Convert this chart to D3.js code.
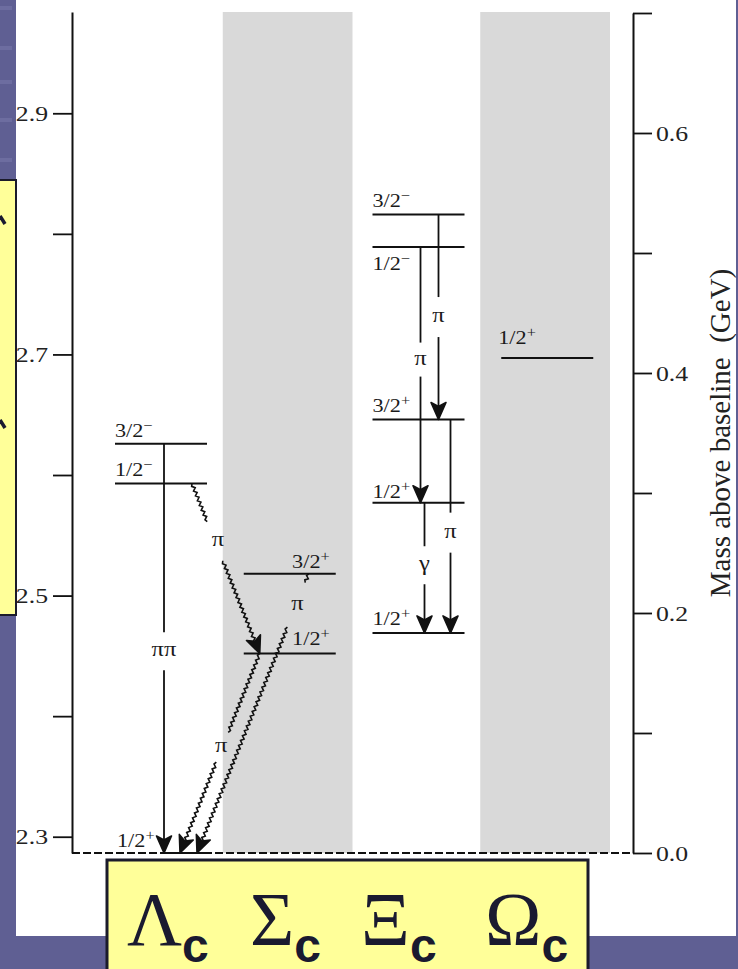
<!DOCTYPE html>
<html>
<head>
<meta charset="utf-8">
<script src="https://cdn.jsdelivr.net/npm/d3@7"></script>
<style>
  html, body { margin: 0; padding: 0; background: #5f5f93; }
  svg { display: block; }
</style>
</head>
<body>
<svg id="chart" width="738" height="969"></svg>
<script>
// ---- Charm baryon families (one column each) ----
const families = ["Λc", "Σc", "Ξc", "Ωc"];
const shadedFamilies = ["Σc", "Ωc"];

// ---- Levels: family, mass (GeV), spin J, parity P ----
const levelIds    = ["L0", "L1", "L2", "S1", "S2", "X0", "X1", "X2", "X3", "X4", "O0"];
const levelFamily = ["Λc", "Λc", "Λc", "Σc", "Σc", "Ξc", "Ξc", "Ξc", "Ξc", "Ξc", "Ωc"];
const levelMass   = [2.2865, 2.593, 2.626, 2.452, 2.518, 2.469, 2.577, 2.646, 2.789, 2.816, 2.697];
const levelSpin   = ["1/2", "1/2", "3/2", "1/2", "3/2", "1/2", "1/2", "3/2", "1/2", "3/2", "1/2"];
const levelParity = ["+", "−", "−", "+", "+", "+", "+", "+", "−", "−", "+"];

// ---- Decays between levels ----
const decayFrom  = ["L2", "L1", "S1", "S2", "X3", "X4", "X2", "X1"];
const decayTo    = ["L0", "S1", "L0", "L0", "X1", "X2", "X0", "X0"];
const decayLabel = ["ππ", "π", "π", "π", "π", "π", "π", "γ"];
const decayWavy  = [false, true, true, true, false, false, false, false];

// ---- Axis ticks ----
const massTicks      = [2.3, 2.4, 2.5, 2.6, 2.7, 2.8, 2.9];
const massTickLabels = ["2.3", "", "2.5", "", "2.7", "", "2.9"];
const excTicks       = [0.0, 0.1, 0.2, 0.3, 0.4, 0.5, 0.6, 0.7];
const excTickLabels  = ["0.0", "", "0.2", "", "0.4", "", "0.6", ""];
const excAxisTitle   = "Mass above baseline  (GeV)";

// ---- Layout (placement only) ----
const levelInset = [21, 113];             // level line span inside a column
const levelLabelPlace = {                 // where each J^P tag sits relative to its line
  L0: { anchor: "start", dx: 2,  dy: -6 },
  L1: { anchor: "start", dx: 0,  dy: -7 },
  L2: { anchor: "start", dx: 0,  dy: -7 },
  S1: { anchor: "end",   dx: -6, dy: -8 },
  S2: { anchor: "end",   dx: -6, dy: -6 },
  X0: { anchor: "start", dx: 0,  dy: -8 },
  X1: { anchor: "start", dx: 0,  dy: -5 },
  X2: { anchor: "start", dx: 0,  dy: -8 },
  X3: { anchor: "start", dx: 0,  dy: 23 },
  X4: { anchor: "start", dx: 0,  dy: -8 },
  O0: { anchor: "start", dx: -3, dy: -14 }
};
// x offset of each decay line at its start / end column, label position t along it, half gap
const decayPlace = [
  { x0: 70, x1: 70,  t: 0.507, gap: 19, ldx: 0 },
  { x0: 98, x1: 37,  t: 0.34,  gap: 21, ldx: 3 },
  { x0: 37, x1: 86,  t: 0.47,  gap: 16, ldx: -1 },
  { x0: 86, x1: 103, t: 0.111, gap: 24, ldx: 1 },
  { x0: 69, x1: 69,  t: 0.44,  gap: 17, ldx: 0 },
  { x0: 87, x1: 87,  t: 0.50,  gap: 20, ldx: 0 },
  { x0: 99, x1: 99,  t: 0.53,  gap: 20, ldx: 0 },
  { x0: 73, x1: 73,  t: 0.48,  gap: 19, ldx: 0 }
];
const familyLabelX = [127, 250, 361, 485];

// ---------------------------------------------------------------
const W = 738, H = 969;
const svg = d3.select("#chart");
const serif = "'Liberation Serif','Times New Roman',serif";
const ink = "#111";
const stretch = 1.17;   // the diagram's lettering is set slightly wide

// slide backdrop and white panel
svg.append("rect").attr("width", W).attr("height", H).attr("fill", "#5f5f93");
const streaks = [6, 46, 80, 118, 158];
svg.selectAll("rect.streak").data(streaks).join("rect")
  .attr("x", 0).attr("y", d => d).attr("width", 12).attr("height", 4)
  .attr("fill", "#7676a8").attr("opacity", 0.6);
svg.append("rect").attr("x", 16).attr("y", 0).attr("width", 720).attr("height", 936).attr("fill", "#ffffff");

// scales
const yMass = d3.scaleLinear().domain([2.2865, 2.984]).range([853, 12]);
const yExc  = d3.scaleLinear().domain([0, 0.7]).range([853, 13]);
const xFam  = d3.scaleBand().domain(families).range([94, 609]);
const axisLeftX = 72, axisRightX = 633;

// shaded family columns
svg.selectAll("rect.band").data(shadedFamilies).join("rect")
  .attr("class", "band")
  .attr("x", d => xFam(d)).attr("width", xFam.bandwidth() + 1)
  .attr("y", yMass.range()[1]).attr("height", yMass.range()[0] - yMass.range()[1])
  .attr("fill", "#d9d9d9");

// dashed baseline at the lowest level
const baseY = yMass(levelMass[0]);
svg.append("line")
  .attr("x1", axisLeftX).attr("x2", axisRightX).attr("y1", baseY).attr("y2", baseY)
  .attr("stroke", ink).attr("stroke-width", 1.8).attr("stroke-dasharray", "8,3");

// axes
function styleAxis(g) {
  g.attr("font-family", serif).attr("font-size", 22);
  g.selectAll("path.domain").attr("stroke", ink).attr("stroke-width", 2);
  g.selectAll(".tick line").attr("stroke", ink).attr("stroke-width", 1.8);
  g.selectAll(".tick text").attr("fill", "#222").each(function () {
    const t = d3.select(this);
    const x = +t.attr("x");
    t.attr("x", 0).attr("transform", `translate(${x},0) scale(${stretch},1)`);
  });
}
const gL = svg.append("g").attr("transform", `translate(${axisLeftX},0)`)
  .call(d3.axisLeft(yMass).tickValues(massTicks).tickSize(19).tickSizeOuter(0)
    .tickPadding(5).tickFormat((d, i) => massTickLabels[i]));
styleAxis(gL);
const gR = svg.append("g").attr("transform", `translate(${axisRightX},0)`)
  .call(d3.axisRight(yExc).tickValues(excTicks).tickSize(19).tickSizeOuter(0)
    .tickPadding(4).tickFormat((d, i) => excTickLabels[i]));
styleAxis(gR);

svg.append("text")
  .attr("transform", `translate(730,433) rotate(-90)`)
  .attr("text-anchor", "middle").attr("font-family", serif).attr("font-size", 29)
  .style("white-space", "pre")
  .attr("fill", "#222").text(excAxisTitle);

// levels
const levels = levelIds.map((id, i) => ({
  id, fam: levelFamily[i], mass: levelMass[i], spin: levelSpin[i], parity: levelParity[i]
}));
const levelById = Object.fromEntries(levels.map(d => [d.id, d]));
const lx1 = d => xFam(d.fam) + levelInset[0];
const lx2 = d => xFam(d.fam) + levelInset[1];

svg.selectAll("line.level").data(levels.filter(d => d.id !== "L0")).join("line")
  .attr("class", "level")
  .attr("x1", lx1).attr("x2", lx2)
  .attr("y1", d => yMass(d.mass)).attr("y2", d => yMass(d.mass))
  .attr("stroke", ink).attr("stroke-width", 2);
// ground Λc level: solid where the decays land
svg.append("line")
  .attr("x1", xFam("Λc") + 66).attr("x2", xFam("Λc") + 118)
  .attr("y1", baseY).attr("y2", baseY).attr("stroke", ink).attr("stroke-width", 2);

const tags = svg.selectAll("text.jp").data(levels).join("text")
  .attr("class", "jp")
  .attr("font-family", serif).attr("font-size", 19).attr("fill", "#1a1a1a")
  .attr("text-anchor", d => levelLabelPlace[d.id].anchor)
  .attr("transform", d => {
    const p = levelLabelPlace[d.id];
    const x = (p.anchor === "end" ? lx2(d) : lx1(d)) + p.dx;
    return `translate(${x},${yMass(d.mass) + p.dy}) scale(${stretch},1)`;
  });
tags.append("tspan").text(d => d.spin);
tags.append("tspan").attr("dy", -7).attr("font-size", 14).text(d => d.parity);

// decays
function zigzag(a, b, amp = 1.4, step = 2.6) {
  const dx = b[0] - a[0], dy = b[1] - a[1], L = Math.hypot(dx, dy);
  const n = Math.max(1, Math.round(L / step));
  const ux = dx / L, uy = dy / L, nx = -uy, ny = ux;
  const pts = [];
  for (let i = 0; i <= n; i++) {
    const s = (i / n) * L;
    const o = (i === 0 || i === n) ? 0 : (i % 2 ? amp : -amp);
    pts.push([a[0] + ux * s + nx * o, a[1] + uy * s + ny * o]);
  }
  return d3.line()(pts);
}

const decays = decayFrom.map((f, i) => {
  const a = levelById[f], b = levelById[decayTo[i]], p = decayPlace[i];
  const p0 = [xFam(a.fam) + p.x0, yMass(a.mass)];
  const p1 = [xFam(b.fam) + p.x1, yMass(b.mass)];
  const dx = p1[0] - p0[0], dy = p1[1] - p0[1], L = Math.hypot(dx, dy);
  const u = [dx / L, dy / L];
  const c = [p0[0] + dx * p.t, p0[1] + dy * p.t];
  return {
    label: decayLabel[i], wavy: decayWavy[i], p0, p1, u, c, ldx: p.ldx,
    segs: [
      [p0, [c[0] - u[0] * p.gap, c[1] - u[1] * p.gap]],
      [[c[0] + u[0] * p.gap, c[1] + u[1] * p.gap], [p1[0] - u[0] * 11, p1[1] - u[1] * 11]]
    ]
  };
});

const gD = svg.append("g");
decays.forEach(d => {
  d.segs.forEach(s => {
    gD.append("path")
      .attr("d", d.wavy ? zigzag(s[0], s[1]) : d3.line()(s))
      .attr("fill", "none").attr("stroke", ink).attr("stroke-width", d.wavy ? 1.6 : 1.8);
  });
  const ang = Math.atan2(d.u[1], d.u[0]) * 180 / Math.PI;
  gD.append("path")
    .attr("d", "M0,0 L-17,-7.5 L-13,0 L-17,7.5 Z")
    .attr("transform", `translate(${d.p1[0]},${d.p1[1]}) rotate(${ang})`)
    .attr("fill", ink).attr("stroke", ink).attr("stroke-width", 1.6)
    .attr("stroke-linejoin", "round");
  gD.append("text")
    .attr("transform", `translate(${d.c[0] + d.ldx},${d.c[1] + 5}) scale(${stretch},1)`)
    .attr("text-anchor", "middle").attr("font-family", serif).attr("font-size", 21)
    .attr("fill", "#1a1a1a").text(d.label);
});

// family name plate below the diagram
svg.append("rect")
  .attr("x", 107).attr("y", 860).attr("width", 481).attr("height", 130)
  .attr("fill", "#ffff99").attr("stroke", "#1b1b2b").attr("stroke-width", 3);
const plates = svg.selectAll("text.fam").data(families).join("text")
  .attr("class", "fam")
  .attr("x", (d, i) => familyLabelX[i]).attr("y", 945)
  .attr("fill", "#1a1a30");
plates.append("tspan").attr("font-family", serif).attr("font-size", 76).text(d => d[0]);
plates.append("tspan").attr("font-family", "'Liberation Sans',Arial,sans-serif")
  .attr("font-weight", "bold").attr("font-size", 48).attr("dy", 17).text(d => d.slice(1));

// side plate at the left edge
svg.append("rect")
  .attr("x", -4).attr("y", 180).attr("width", 20).attr("height", 435)
  .attr("fill", "#ffff99").attr("stroke", "#1b1b2b").attr("stroke-width", 2);
svg.selectAll("path.glyphbit").data([216, 420]).join("path")
  .attr("d", d => `M0,${d} L5,${d + 8}`)
  .attr("stroke", "#1a1a30").attr("stroke-width", 3.5).attr("fill", "none");
</script>
</body>
</html>
